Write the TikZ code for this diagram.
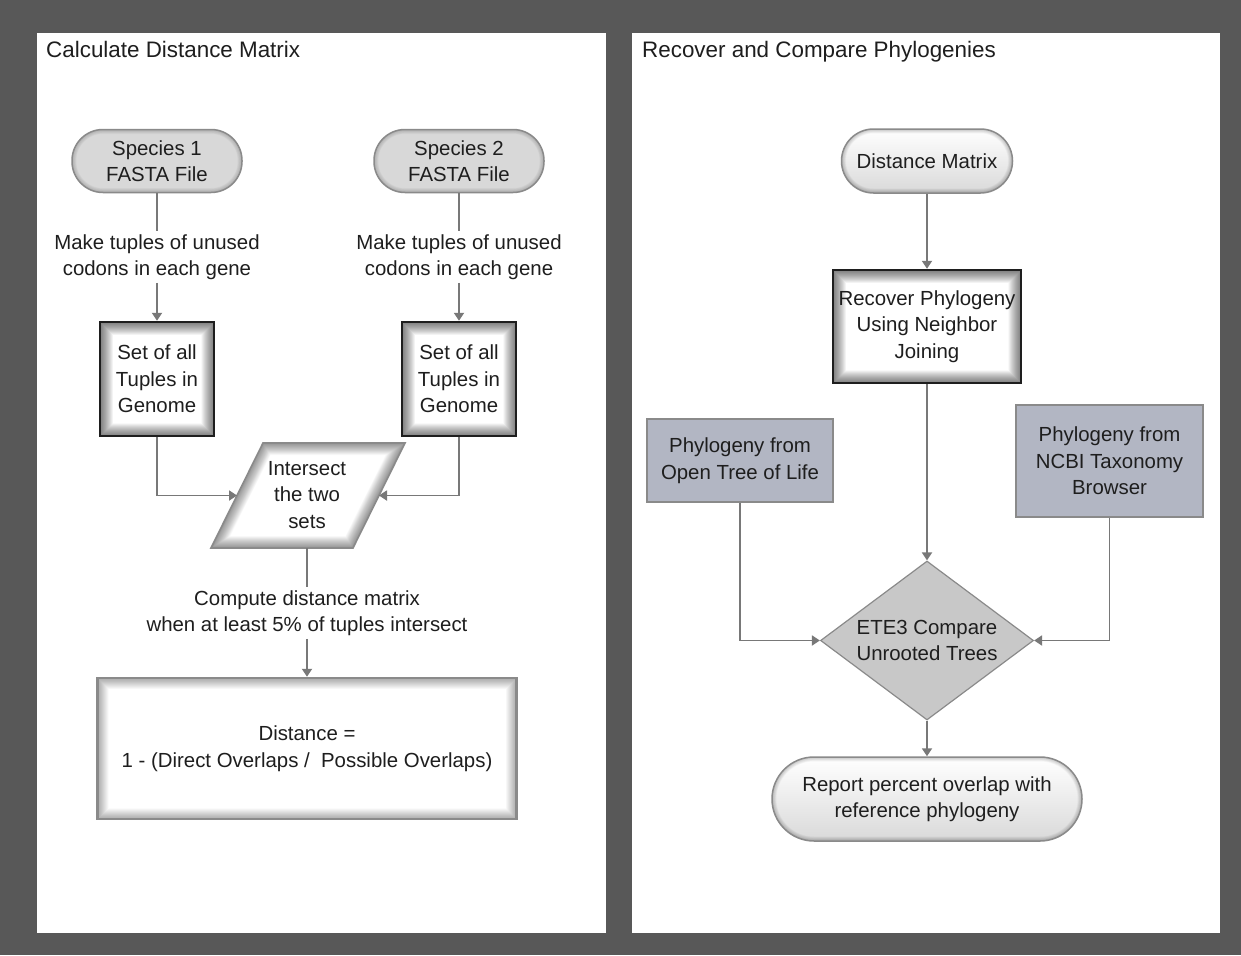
\documentclass[tikz,border=0pt]{standalone}
\usepackage{fontspec}
\setmainfont{Liberation Sans}
\usetikzlibrary{shapes.geometric,arrows.meta,calc}

\definecolor{bgdark}{HTML}{585858}
\definecolor{ink}{HTML}{1E1E1E}
\definecolor{wire}{HTML}{787878}
\definecolor{edgegray}{HTML}{8A8A8A}
\definecolor{spfill}{HTML}{D8D8D8}
\definecolor{pillbot}{HTML}{D9D9D9}
\definecolor{phylo}{HTML}{B2B6C3}
\definecolor{decfill}{HTML}{C8C8C8}

\tikzset{
  body/.style={font=\fontsize{20.4}{26.5}\selectfont, text=ink, align=center},
  title/.style={font=\fontsize{22.4}{27}\selectfont, text=ink, anchor=base west, inner sep=0pt},
  conn/.style={draw=wire, line width=1.8pt},
  arr/.style={conn, -{Triangle[length=8pt,width=10pt]}},
  % soft inner shading for square boxes: number of layers, width step, opacity per layer
  glowrect/.style n args={3}{path picture={
      \foreach \i in {1,...,#1}{
        \draw[line width=\i*#2, draw=black, draw opacity=#3]
          (path picture bounding box.south west) rectangle (path picture bounding box.north east);
      }}},
  % soft inner shading for pill shapes: layers, width step, opacity per layer, corner radius
  glowpill/.style n args={4}{path picture={
      \foreach \i in {1,...,#1}{
        \draw[line width=\i*#2, draw=black, draw opacity=#3, rounded corners=#4]
          (path picture bounding box.south west) rectangle (path picture bounding box.north east);
      }}},
  pill/.style={body, draw=edgegray, line width=1.5pt, inner sep=0pt},
  setbox/.style={body, draw=ink, line width=2.4pt, fill=white, inner sep=0pt,
      minimum width=114pt, minimum height=114pt, glowrect={26}{1.0pt}{0.025}},
  phylobox/.style={body, draw=edgegray, line width=1.2pt, fill=phylo, inner sep=0pt},
  lbl/.style={body, inner sep=3pt},
}

\begin{document}
\begin{tikzpicture}[x=1pt, y=-1pt]
\useasboundingbox (0,0) rectangle (1241,955);

% background and the two panels
\fill[bgdark] (0,0) rectangle (1241,955);
\fill[white] (37,33) rectangle (606,933);
\fill[white] (632,33) rectangle (1220,933);

\node[title] (t1) at (46,58) {Calculate Distance Matrix};
\node[title] (t2) at (642,58) {Recover and Compare Phylogenies};

% ---------- left panel ----------
\node[pill, fill=spfill, rounded corners=31pt, minimum width=170pt, minimum height=63pt,
      glowpill={10}{0.9pt}{0.02}{31pt}] (sp1) at (157,161) {Species 1\\FASTA File};
\node[pill, fill=spfill, rounded corners=31pt, minimum width=170pt, minimum height=63pt,
      glowpill={10}{0.9pt}{0.02}{31pt}] (sp2) at (459,161) {Species 2\\FASTA File};

\node[lbl] (mk1) at (157,257) {Make tuples of unused\\codons in each gene};
\node[lbl] (mk2) at (459,257) {Make tuples of unused\\codons in each gene};

\node[setbox] (set1) at (157,379) {Set of all\\Tuples in\\Genome};
\node[setbox] (set2) at (459,379) {Set of all\\Tuples in\\Genome};

% parallelogram for the intersection step
\coordinate (pTL) at (263,443);
\coordinate (pTR) at (405,443);
\coordinate (pBR) at (353,548);
\coordinate (pBL) at (211,548);
\begin{scope}
  \clip (pTL) -- (pTR) -- (pBR) -- (pBL) -- cycle;
  \fill[white] (pTL) -- (pTR) -- (pBR) -- (pBL) -- cycle;
  \foreach \i in {1,...,24}{
    \draw[line width=\i*1.0pt, draw=black, draw opacity=0.02]
      (pTL) -- (pTR) -- (pBR) -- (pBL) -- cycle;
  }
\end{scope}
\draw[edgegray, line width=1.6pt, line join=miter] (pTL) -- (pTR) -- (pBR) -- (pBL) -- cycle;
\node[body, inner sep=0pt] (isect) at (307,495) {Intersect\\the two\\sets};
\coordinate (isectL) at ($(pTL)!0.5!(pBL)$);
\coordinate (isectR) at ($(pTR)!0.5!(pBR)$);
\coordinate (isectB) at (307,548);

\node[lbl] (cmp) at (307,613) {Compute distance matrix\\when at least 5\% of tuples intersect};

\node[body, draw=edgegray, line width=2.4pt, fill=white, inner sep=0pt,
      minimum width=419pt, minimum height=141pt, glowrect={22}{1.0pt}{0.015}]
      (dist) at (307,748.5) {Distance =\\1 - (Direct Overlaps /\ \ Possible Overlaps)};

\draw[conn] (sp1) -- (mk1);
\draw[arr] (mk1) -- (set1);
\draw[conn] (sp2) -- (mk2);
\draw[arr] (mk2) -- (set2);
\draw[arr] (set1.south) |- (isectL);
\draw[arr] (set2.south) |- (isectR);
\draw[conn] (isectB) -- (cmp);
\draw[arr] (cmp) -- (dist);

% ---------- right panel ----------
\node[pill, top color=white, bottom color=pillbot, rounded corners=32pt,
      minimum width=171pt, minimum height=64pt,
      glowpill={10}{0.9pt}{0.025}{32pt}] (dm) at (927,161) {Distance Matrix};

\node[setbox, minimum width=188pt, minimum height=113pt] (rec) at (927,326.5)
      {Recover Phylogeny\\Using Neighbor\\Joining};

\node[phylobox, minimum width=186pt, minimum height=83pt] (otol) at (740,460.5)
      {Phylogeny from\\Open Tree of Life};
\node[phylobox, minimum width=187pt, minimum height=112pt] (ncbi) at (1109.5,461)
      {Phylogeny from\\NCBI Taxonomy\\Browser};

\node[body, diamond, draw=edgegray, line width=1.2pt, fill=decfill, inner sep=0pt,
      aspect=1.34, minimum width=213pt, minimum height=159pt] (ete) at (927,640.5)
      {ETE3 Compare\\Unrooted Trees};

\node[pill, top color=white, bottom color=pillbot, rounded corners=42pt,
      minimum width=310pt, minimum height=84pt,
      glowpill={10}{0.9pt}{0.025}{42pt}] (rep) at (927,799)
      {Report percent overlap with\\reference phylogeny};

\draw[arr] (dm) -- (rec);
\draw[arr] (rec) -- (ete);
\draw[arr] (otol) |- (ete);
\draw[arr] (ncbi) |- (ete);
\draw[arr] (ete) -- (rep);

\end{tikzpicture}
\end{document}
